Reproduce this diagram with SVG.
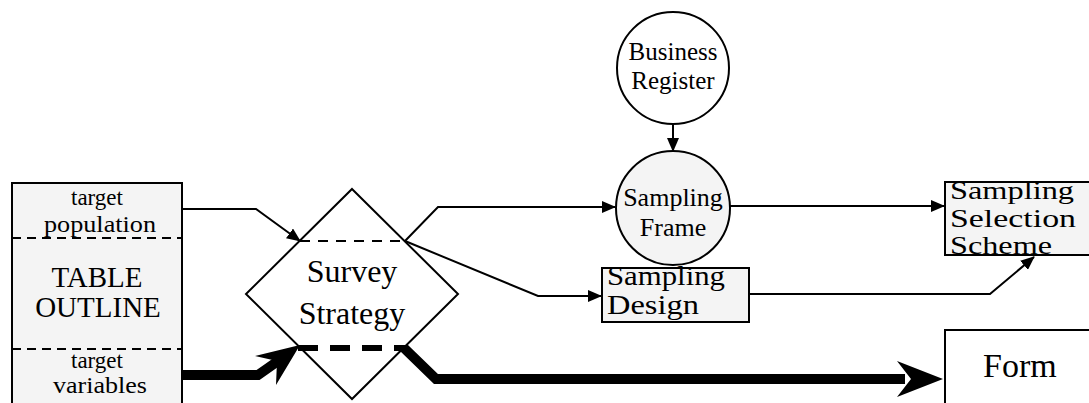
<svg xmlns="http://www.w3.org/2000/svg" width="1089" height="403" viewBox="0 0 1089 403">
<style>
text{font-family:"Liberation Serif","Times New Roman",serif;fill:#000}
.box{fill:#f4f4f4;stroke:#000;stroke-width:2}
.wbox{fill:#fff;stroke:#000;stroke-width:2}
.ln{fill:none;stroke:#000;stroke-width:2}
.dash{fill:none;stroke:#000;stroke-width:2;stroke-dasharray:9 6}
.thick{fill:none;stroke:#000;stroke-width:10;stroke-linejoin:miter}
</style>
<defs>
<marker id="ah" markerWidth="14" markerHeight="12" refX="13" refY="6" orient="auto" markerUnits="userSpaceOnUse">
<path d="M0,0 L14,6 L0,12 Z" fill="#000"/>
</marker>
</defs>
<rect width="1089" height="403" fill="#fff"/>

<g id="table-outline">
<rect class="box" x="12" y="183" width="170" height="240"/>
<line class="dash" x1="12" y1="238" x2="182" y2="238"/>
<line class="dash" x1="12" y1="349" x2="182" y2="349"/>
<text x="97" y="205" font-size="23" text-anchor="middle">target</text>
<text x="100" y="232" font-size="23" text-anchor="middle" textLength="112" lengthAdjust="spacingAndGlyphs">population</text>
<text x="97" y="287" font-size="29" text-anchor="middle">TABLE</text>
<text x="98" y="317" font-size="29" text-anchor="middle">OUTLINE</text>
<text x="97" y="368" font-size="23" text-anchor="middle">target</text>
<text x="100" y="393" font-size="23" text-anchor="middle" textLength="94" lengthAdjust="spacingAndGlyphs">variables</text>
</g>

<g id="survey-strategy">
<polygon class="wbox" points="352,189 458,294 352,399 246,294"/>
<line class="dash" x1="300" y1="241" x2="405" y2="241" style="stroke-dasharray:10 8"/>
<line x1="298" y1="348" x2="406" y2="348" stroke="#000" stroke-width="6" stroke-dasharray="20 12"/>
<text x="352" y="282" font-size="32" text-anchor="middle">Survey</text>
<text x="352" y="324" font-size="32" text-anchor="middle">Strategy</text>
</g>

<g id="business-register">
<circle class="wbox" cx="673" cy="68" r="56"/>
<text x="673" y="60" font-size="25" text-anchor="middle">Business</text>
<text x="673" y="89" font-size="25" text-anchor="middle">Register</text>
</g>

<g id="sampling-frame">
<circle class="box" cx="673" cy="208" r="57"/>
<text x="673" y="206" font-size="26" text-anchor="middle">Sampling</text>
<text x="673" y="236" font-size="26" text-anchor="middle">Frame</text>
</g>

<g id="sampling-design">
<rect class="box" x="602" y="268" width="147" height="54"/>
<text x="607" y="285" font-size="27" textLength="118" lengthAdjust="spacingAndGlyphs">Sampling</text>
<text x="607" y="314" font-size="27" textLength="92" lengthAdjust="spacingAndGlyphs">Design</text>
</g>

<g id="sampling-selection-scheme">
<rect class="box" x="945" y="182" width="160" height="73"/>
<text x="950" y="199" font-size="26" textLength="124" lengthAdjust="spacingAndGlyphs">Sampling</text>
<text x="950" y="227" font-size="26" textLength="126" lengthAdjust="spacingAndGlyphs">Selection</text>
<text x="950" y="254" font-size="26" textLength="102" lengthAdjust="spacingAndGlyphs">Scheme</text>
</g>

<g id="form">
<rect class="wbox" x="945" y="330" width="160" height="100"/>
<text x="983" y="377" font-size="34">Form</text>
</g>

<g id="connectors">
<path class="ln" d="M182,209 L256,209 L300,241" marker-end="url(#ah)"/>
<path class="ln" d="M405,241 L438,207 L615,207" marker-end="url(#ah)"/>
<path class="ln" d="M405,241 L538,296 L601,296" marker-end="url(#ah)"/>
<path class="ln" d="M673,124 L673,151" marker-end="url(#ah)"/>
<path class="ln" d="M730,206 L944,206" marker-end="url(#ah)"/>
<path class="ln" d="M749,294 L990,294 L1034,257" marker-end="url(#ah)"/>
<path class="thick" d="M182,375 L258,375 L278,361"/>
<polygon points="300,345 255,356 277,361 276,385" fill="#000"/>
<path class="thick" d="M404,348 L436,379 L905,379"/>
<polygon points="943,379 897,361 911,379 897,397" fill="#000"/>
</g>
</svg>
